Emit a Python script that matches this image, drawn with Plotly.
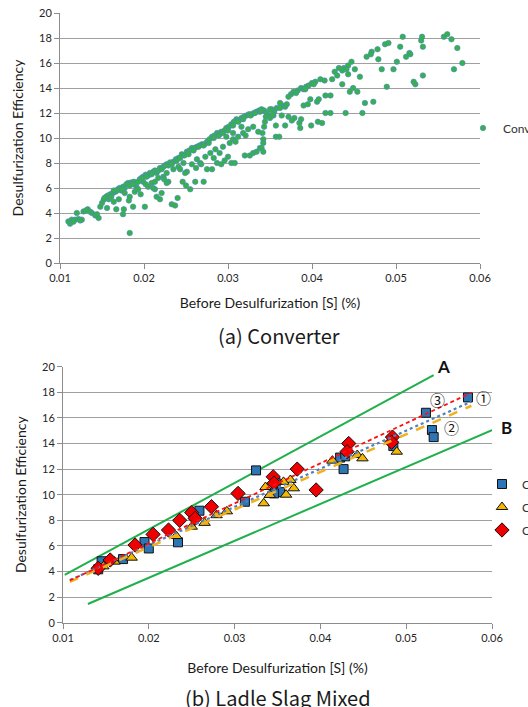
import plotly.graph_objects as go

# ---------------- data: (a) Converter ----------------
conv_x = [
    0.0110, 0.0114, 0.0112, 0.0118, 0.0122, 0.0126, 0.0120, 0.0128, 0.0133, 0.0138, 0.0142, 0.0146,
    0.0148, 0.0150, 0.0152, 0.0155, 0.0158, 0.0160, 0.0163, 0.0166, 0.0169, 0.0171, 0.0175, 0.0177,
    0.0181, 0.0185, 0.0191, 0.0195, 0.0199, 0.0202, 0.0207, 0.0211, 0.0215, 0.0219, 0.0223, 0.0227,
    0.0231, 0.0235, 0.0241, 0.0245, 0.0251, 0.0257, 0.0263, 0.0269, 0.0275, 0.0281, 0.0287, 0.0292,
    0.0298, 0.0304, 0.0310, 0.0316, 0.0322, 0.0328, 0.0334, 0.0340,
    0.0157, 0.0164, 0.0173, 0.0179, 0.0188, 0.0205, 0.0213, 0.0225, 0.0238, 0.0248, 0.0254, 0.0260,
    0.0266, 0.0272, 0.0278, 0.0284, 0.0290, 0.0296, 0.0301, 0.0307, 0.0313, 0.0319, 0.0325, 0.0331, 0.0337,
    0.0156, 0.0164, 0.0170, 0.0177, 0.0183, 0.0189, 0.0193, 0.0199, 0.0205, 0.0209, 0.0213, 0.0217,
    0.0223, 0.0227, 0.0213, 0.0221, 0.0229, 0.0235, 0.0241, 0.0247, 0.0251, 0.0257, 0.0263, 0.0267,
    0.0273, 0.0279, 0.0285, 0.0290, 0.0294, 0.0302, 0.0306, 0.0312, 0.0318, 0.0324, 0.0330, 0.0336,
    0.0316, 0.0306, 0.0298,
    0.0167, 0.0175, 0.0176, 0.0187, 0.0201, 0.0202, 0.0215, 0.0219, 0.0227, 0.0233, 0.0237, 0.0240,
    0.0246, 0.0250, 0.0255, 0.0261, 0.0271, 0.0275, 0.0281, 0.0287, 0.0292, 0.0300, 0.0304, 0.0308,
    0.0320, 0.0326, 0.0330, 0.0334, 0.0338, 0.0342, 0.0183,
    0.0343, 0.0346, 0.0349, 0.0352, 0.0355, 0.0358, 0.0345, 0.0350, 0.0354, 0.0365, 0.0368, 0.0375,
    0.0383, 0.0387, 0.0393, 0.0400, 0.0341, 0.0343, 0.0344,
    0.0338, 0.0350, 0.0362, 0.0372, 0.0378, 0.0390, 0.0396, 0.0404, 0.0410, 0.0424, 0.0427, 0.0432,
    0.0438, 0.0443, 0.0447, 0.0451, 0.0443,
    0.0465, 0.0471, 0.0478, 0.0487, 0.0479, 0.0483, 0.0497, 0.0501, 0.0508, 0.0512, 0.0516, 0.0531,
    0.0532, 0.0532, 0.0521, 0.0523, 0.0557, 0.0561, 0.0566, 0.0573, 0.0569, 0.0579,
    0.0489, 0.0457, 0.0445, 0.0454, 0.0449, 0.0436, 0.0416, 0.0422, 0.0398, 0.0406, 0.0390, 0.0416,
    0.0422, 0.0440, 0.0460, 0.0463, 0.0473, 0.0407, 0.0412, 0.0399, 0.0386, 0.0387, 0.0379, 0.0372,
    0.0368, 0.0357, 0.0357, 0.0361, 0.0342, 0.0340, 0.0342,
    0.0116, 0.0124, 0.0131, 0.0136, 0.0144, 0.0153, 0.0161, 0.0168, 0.0174, 0.0183, 0.0187, 0.0193,
    0.0197, 0.0203, 0.0209, 0.0217, 0.0221, 0.0229, 0.0233, 0.0239, 0.0243, 0.0253, 0.0259, 0.0265,
    0.0271, 0.0277, 0.0283, 0.0289, 0.0294, 0.0300, 0.0306, 0.0312, 0.0318, 0.0327, 0.0332, 0.0339,
    0.0243, 0.0249, 0.0262, 0.0268, 0.0283, 0.0296, 0.0309, 0.0321, 0.0182, 0.0196, 0.0211, 0.0224,
    0.0362, 0.0370, 0.0381, 0.0392, 0.0402, 0.0415, 0.0430, 0.0436, 0.0441, 0.0353, 0.0364, 0.0376,
    0.0385, 0.0395, 0.0408, 0.0470, 0.0491, 0.0505, 0.0517, 0.0530,
]
conv_y = [
    3.33, 3.47, 3.15, 3.47, 3.52, 3.47, 4.00, 4.13, 4.30, 4.00, 3.80, 3.60,
    4.50, 4.80, 5.07, 5.30, 5.10, 5.50, 5.60, 5.70, 5.90, 6.00, 6.10, 6.00,
    6.40, 6.45, 6.10, 6.70, 6.90, 7.07, 7.20, 7.30, 7.20, 7.60, 7.70, 7.90,
    8.05, 8.10, 8.40, 8.70, 8.90, 9.20, 9.30, 9.50, 9.70, 10.10, 10.40, 10.50,
    10.80, 11.10, 11.50, 11.60, 11.80, 11.90, 12.10, 12.30,
    5.40, 5.80, 5.80, 6.30, 6.50, 7.00, 7.40, 7.80, 8.30, 8.60, 9.00, 9.20,
    9.40, 9.50, 9.90, 10.20, 10.30, 10.60, 10.90, 11.30, 11.40, 11.70, 11.90, 12.00, 12.20,
    4.40, 4.90, 5.10, 5.60, 5.30, 5.70, 5.90, 6.50, 6.10, 6.40, 6.50, 6.80,
    6.90, 7.20, 5.90, 5.60, 6.50, 7.50, 7.70, 8.00, 7.30, 7.90, 8.30, 8.00,
    8.50, 8.80, 9.10, 8.80, 9.30, 9.60, 9.90, 10.10, 10.40, 10.70, 10.90, 10.50,
    10.90, 10.40, 10.10,
    4.30, 3.90, 4.30, 4.50, 4.50, 6.30, 5.30, 5.10, 6.40, 4.70, 4.60, 5.20,
    6.50, 6.20, 5.90, 6.50, 6.50, 7.50, 7.50, 8.00, 7.90, 8.50, 8.00, 8.00,
    8.60, 8.60, 8.80, 8.90, 9.20, 9.90, 2.40,
    12.20, 12.00, 11.80, 12.30, 12.10, 12.40, 11.70, 11.60, 11.80, 12.60, 12.50, 13.50,
    13.80, 14.00, 14.10, 14.40, 10.40, 10.90, 11.30,
    12.10, 12.30, 12.80, 13.30, 13.70, 13.90, 14.20, 14.50, 14.70, 14.70, 15.30, 15.60,
    15.60, 15.80, 16.10, 15.50, 15.10,
    16.50, 16.90, 17.10, 17.50, 16.30, 15.50, 15.50, 16.10, 18.10, 16.50, 16.80, 18.10,
    17.30, 15.00, 14.50, 14.30, 18.10, 18.30, 17.90, 17.20, 15.50, 16.00,
    14.10, 14.90, 13.70, 13.70, 14.00, 14.30, 13.40, 13.40, 13.10, 12.90, 12.60, 12.00,
    12.00, 12.00, 12.00, 12.80, 12.90, 11.30, 11.20, 11.00, 10.80, 11.50, 11.60, 11.70,
    11.00, 11.00, 10.10, 10.10, 9.60, 9.20, 8.90,
    3.30, 3.40, 4.20, 4.10, 3.90, 5.20, 5.30, 5.80, 5.90, 6.20, 6.30, 6.50,
    6.80, 6.90, 7.10, 7.40, 7.50, 7.80, 7.90, 8.20, 8.40, 8.70, 9.00, 9.30,
    9.40, 9.60, 10.00, 10.20, 10.40, 10.60, 11.00, 11.30, 11.50, 11.80, 12.00, 12.20,
    7.50, 7.20, 7.60, 7.90, 8.40, 8.20, 9.70, 10.20, 5.00, 5.50, 6.00, 6.70,
    12.40, 12.70, 13.60, 13.90, 14.30, 14.60, 15.00, 15.40, 15.50, 11.90, 11.80, 11.40,
    11.20, 12.70, 13.10, 16.70, 17.60, 17.30, 16.70, 17.80,
]

# ---------------- data: (b) Ladle Slag Mixed ----------------
s1_name = "Case 1"
s1_x = [0.0145, 0.0141, 0.0170, 0.0195, 0.0200, 0.0234, 0.0259, 0.0325, 0.0312,
        0.0423, 0.0429, 0.0427, 0.0348, 0.0353, 0.0346, 0.0485, 0.0523, 0.0530, 0.0532, 0.0572]
s1_y = [4.80, 4.17, 4.97, 6.30, 5.80, 6.28, 8.75, 11.90, 9.45,
        12.90, 13.00, 12.00, 10.90, 10.20, 10.10, 13.80, 16.40, 15.05, 14.50, 17.60]

s2_name = "Case 2"
s2_x = [0.0147, 0.0160, 0.0180, 0.0232, 0.0250, 0.0265, 0.0279, 0.0291, 0.0334,
        0.0341, 0.0360, 0.0369, 0.0365, 0.0357, 0.0336, 0.0414, 0.0443, 0.0449, 0.0489]
s2_y = [4.40, 4.77, 5.08, 6.77, 7.50, 7.80, 8.40, 8.70, 9.33,
        9.98, 10.00, 10.50, 11.15, 11.00, 10.60, 12.66, 13.10, 12.84, 13.36]

s3_name = "Case 3"
s3_x = [0.0141, 0.0155, 0.0184, 0.0205, 0.0223, 0.0236, 0.0250, 0.0254, 0.0273, 0.0304,
        0.0345, 0.0346, 0.0433, 0.0431, 0.0373, 0.0395, 0.0484, 0.0483]
s3_y = [4.25, 4.90, 6.07, 6.90, 7.24, 8.00, 8.60, 8.15, 9.06, 10.10,
        11.40, 10.90, 14.00, 13.36, 12.00, 10.37, 14.50, 14.10]

trend_x = [0.0108, 0.0576]
trend1_y = [3.33, 17.27]   # (1) dotted
trend2_y = [3.20, 16.95]   # (2) dashed
trend3_y = [3.30, 17.97]   # (3) dashed

lineA_x = [0.0102, 0.0532]
lineA_y = [3.73, 19.35]
lineB_x = [0.0129, 0.0600]
lineB_y = [1.46, 15.05]

x_ticks = [0.01, 0.02, 0.03, 0.04, 0.05, 0.06]
y_ticks = [0, 2, 4, 6, 8, 10, 12, 14, 16, 18, 20]

# ---------------- figure ----------------
W, H = 528, 707
TICKFONT = dict(family="Lato, 'Open Sans', sans-serif", size=11, color="#262626")
TITLEFONT = dict(family="Lato, 'Open Sans', sans-serif", size=14, color="#1a1a1a")
GRID = "#a0a0a0"
AXC = "#8c8c8c"

fig = go.Figure()

fig.add_trace(go.Scatter(
    x=conv_x, y=conv_y, mode="markers", name="Conv.",
    marker=dict(size=5.5, color="#35b24a", line=dict(color="#4f86c6", width=0.6)),
    xaxis="x", yaxis="y", legend="legend"))

fig.add_trace(go.Scatter(x=lineA_x, y=lineA_y, mode="lines", showlegend=False,
                         line=dict(color="#1fb04c", width=2), xaxis="x2", yaxis="y2"))
fig.add_trace(go.Scatter(x=lineB_x, y=lineB_y, mode="lines", showlegend=False,
                         line=dict(color="#1fb04c", width=2), xaxis="x2", yaxis="y2"))

fig.add_trace(go.Scatter(x=s1_x, y=s1_y, mode="markers", name=s1_name, legendgroup="g1",
                         marker=dict(symbol="square", size=9, color="#2e75b6", line=dict(color="#111", width=1)),
                         xaxis="x2", yaxis="y2", legend="legend2"))
fig.add_trace(go.Scatter(x=s2_x, y=s2_y, mode="markers", name=s2_name, legendgroup="g2",
                         marker=dict(symbol="triangle-up", size=10, color="#f5b800", line=dict(color="#111", width=1)),
                         xaxis="x2", yaxis="y2", legend="legend2"))
fig.add_trace(go.Scatter(x=s3_x, y=s3_y, mode="markers", name=s3_name, legendgroup="g3",
                         marker=dict(symbol="diamond", size=11, color="#ee0000", line=dict(color="#111", width=1)),
                         xaxis="x2", yaxis="y2", legend="legend2"))

fig.add_trace(go.Scatter(x=trend_x, y=trend1_y, mode="lines", showlegend=False,
                         line=dict(color="#4f81bd", width=2.2, dash="dot"), xaxis="x2", yaxis="y2"))
fig.add_trace(go.Scatter(x=trend_x, y=trend2_y, mode="lines", showlegend=False,
                         line=dict(color="#f0b020", width=2.5, dash="dash"), xaxis="x2", yaxis="y2"))
fig.add_trace(go.Scatter(x=trend_x, y=trend3_y, mode="lines", showlegend=False,
                         line=dict(color="#ff1010", width=1.8, dash="4px,3px"), xaxis="x2", yaxis="y2"))

def xax(domain, anchor, standoff):
    return dict(domain=domain, anchor=anchor, range=[0.01, 0.06], tickvals=x_ticks,
                ticktext=[f"{v:.2f}" for v in x_ticks], showgrid=False, zeroline=False,
                showline=True, linecolor=AXC, linewidth=1, ticks="outside", ticklen=5,
                tickcolor=AXC, tickfont=TICKFONT,
                title=dict(text="Before Desulfurization [S] (%)", font=TITLEFONT, standoff=standoff))

def yax(domain, anchor):
    return dict(domain=domain, anchor=anchor, range=[0, 20], tickvals=y_ticks,
                showgrid=True, gridcolor=GRID, gridwidth=1.3, zeroline=False,
                showline=True, linecolor=AXC, linewidth=1, ticks="outside", ticklen=5,
                tickcolor=AXC, tickfont=TICKFONT,
                title=dict(text="Desulfurization Efficiency", font=TITLEFONT, standoff=12))

LEGFONT = dict(family="Lato, sans-serif", size=12, color="#333")
fig.update_layout(
    width=W, height=H, margin=dict(l=0, r=0, t=0, b=0, autoexpand=False),
    paper_bgcolor="white", plot_bgcolor="white",
    xaxis=xax([60 / W, 480 / W], "y", 14),
    yaxis=yax([1 - 263 / H, 1 - 13 / H], "x"),
    xaxis2=xax([63 / W, 492 / W], "y2", 20),
    yaxis2=yax([1 - 622.7 / H, 1 - 366.7 / H], "x2"),
    legend=dict(x=463 / W, y=1 - 128 / H, xanchor="left", yanchor="middle",
                font=LEGFONT, bgcolor="rgba(0,0,0,0)", itemwidth=30),
    legend2=dict(x=482 / W, y=1 - 507 / H, xanchor="left", yanchor="middle",
                 font=LEGFONT, bgcolor="rgba(0,0,0,0)", itemwidth=30, tracegroupgap=4),
    showlegend=True,
)

CAP = dict(family="'Noto Sans CJK KR', sans-serif", size=20, color="#1a1a1a")
ann = [
    dict(text="(a) Converter", x=279 / W, y=1 - 335 / H, font=CAP),
    dict(text="(b) Ladle Slag Mixed", x=278 / W, y=1 - 697 / H, font=CAP),
    dict(text="<b>B</b>", x=506 / W, y=1 - 427 / H,
         font=dict(family="Lato, 'Open Sans', sans-serif", size=17, color="#111")),
]
for a in ann:
    a.update(xref="paper", yref="paper", showarrow=False, xanchor="center", yanchor="middle")

BOLD = dict(family="Lato, 'Open Sans', sans-serif", size=17, color="#111")
CIRC = dict(family="'Noto Sans CJK KR', sans-serif", size=15, color="#111")
ann2 = [
    dict(text="<b>A</b>", x=0.0544, y=20.0, font=BOLD),
    dict(text="①", x=0.0590, y=17.6, font=CIRC),
    dict(text="②", x=0.0553, y=15.26, font=CIRC),
    dict(text="③", x=0.0536, y=17.4, font=CIRC),
]
for a in ann2:
    a.update(xref="x2", yref="y2", showarrow=False, xanchor="center", yanchor="middle")

fig.update_layout(annotations=ann + ann2)
fig.write_html("out.html", config={"displayModeBar": False},
               post_script="document.body.style.margin='0';document.body.style.overflow='hidden';")
